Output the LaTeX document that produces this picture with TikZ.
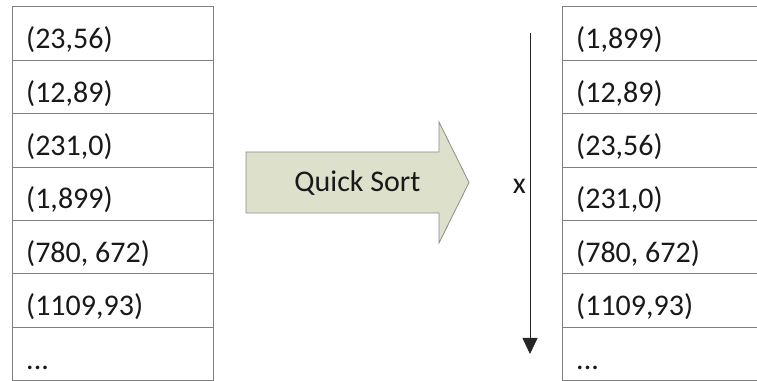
\documentclass[tikz,border=0pt]{standalone}
\usepackage{fontspec}
\setmainfont{Carlito}
\usetikzlibrary{arrows.meta}
\definecolor{linegray}{HTML}{7F7F7F}
\definecolor{arrowfill}{HTML}{DDE0CB}
\definecolor{arrowline}{HTML}{8C8C8C}
\begin{document}
\begin{tikzpicture}[x=1pt,y=1pt,
  cell/.style={draw=linegray, line width=0.9pt, minimum width=#1,
    minimum height=53.4pt, inner sep=0pt, anchor=north west},
  entry/.style={anchor=base west, inner sep=0pt, text=black!90,
    font=\fontsize{30}{36}\selectfont},
  sortarrow/.style={fill=arrowfill, draw=arrowline, line width=0.8pt, line join=miter},
  axis/.style={draw=black!85, line width=0.8pt, -{Triangle[length=16pt,width=15pt]}}
]
\useasboundingbox (0,0) rectangle (757,380);
\clip (0,0) rectangle (757,380);

% unsorted list
\foreach \t [count=\i] in {{(23,56)},{(12,89)},{(231,0)},{(1,899)},{(780, 672)},{(1109,93)}} {
  \node[cell=201pt] (L\i) at (12,{373.5-(\i-1)*53.4}) {};
  \node[entry] (Lt\i) at ([xshift=14pt,yshift=12.1pt]L\i.south west) {\t};
}
\node[cell=201pt] (L7) at (12,{373.5-6*53.4}) {};
\node[entry] (Lt7) at ([xshift=14pt,yshift=12.1pt]L7.south west) {...};

% sorted list
\foreach \t [count=\i] in {{(1,899)},{(12,89)},{(23,56)},{(231,0)},{(780, 672)},{(1109,93)}} {
  \node[cell=215pt] (R\i) at (562,{373.5-(\i-1)*53.4}) {};
  \node[entry] (Rt\i) at ([xshift=14pt,yshift=12.1pt]R\i.south west) {\t};
}
\node[cell=215pt] (R7) at (562,{373.5-6*53.4}) {};
\node[entry] (Rt7) at ([xshift=14pt,yshift=12.1pt]R7.south west) {...};

% Quick Sort block arrow
\draw[sortarrow] (246,228) -- (439,228) -- (439,258) -- (469,197.5)
  -- (439,137) -- (439,167) -- (246,167) -- cycle;
\node[entry, anchor=base] (qs) at (357.5,188.3) {Quick Sort};

% sort key axis
\coordinate (xs) at (530,347);
\coordinate (xe) at (530,26);
\draw[axis] (xs) -- (xe);
\node[entry, anchor=base] (xl) at (519.3,186) {x};
\end{tikzpicture}
\end{document}
